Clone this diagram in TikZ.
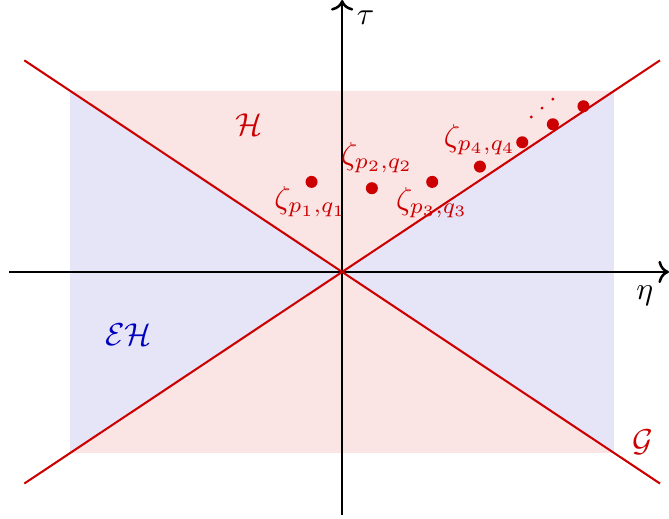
\documentclass[tikz,border=0pt]{standalone}
\usepackage{amsmath}
\usepackage{xcolor}
\usepackage{amssymb}
\usetikzlibrary{arrows.meta}
\colorlet{hred}{red!80!black}
\colorlet{ehblue}{blue!75!black}
\definecolor{hpink}{RGB}{250,228,228}
\definecolor{ehlav}{RGB}{230,228,247}

\begin{document}
\begin{tikzpicture}[line width=0.65pt]
			\useasboundingbox (-3.80,-2.74) rectangle (3.63,3.02);
			
			\fill[ehlav] (-3.02,-2.01) rectangle (3.02,2.01);
			\fill[hpink] (-3.02,2.01) -- (3.02,2.01) -- (0,0) -- cycle;
			\fill[hpink] (-3.02,-2.01) -- (3.02,-2.01) -- (0,0) -- cycle;
			
			\draw[->, line width=0.8pt] (-3.7,0) -- (3.63,0);
			\draw[->, line width=0.8pt] (0,-2.7) -- (0,3.02);
			\node (tau) at (0.26,2.82) {$\tau$};
			\node (eta) at (3.36,-0.27) {$\eta$};
			
			\draw[hred] (-3.53,2.35) -- (3.53,-2.35);
			\draw[hred] (-3.53,-2.35) -- (3.53,2.35);
			
			\node[hred] (H) at (-1.03,1.64) {$\mathcal{H}$};
			\node[ehblue] (EH) at (-2.37,-0.7) {$\mathcal{E}\mathcal{H}$};
			\node[hred] (G) at (3.34,-1.89) {$\mathcal{G}$};
			
			\foreach \p in {(-0.34,1.0),(0.33,0.93),(1.0,1.0),(1.53,1.17),(2.0,1.44),(2.34,1.64),(2.68,1.84)}{
				\fill[hred] \p circle (1.9pt);
			}
			\foreach \p in {(2.1,1.72),(2.22,1.82),(2.34,1.92)}{
				\fill[hred] \p circle (0.5pt);
			}
			
			\node[hred] (z1) at (-0.35,0.78) {$\zeta_{p_1,q_1}$};
			\node[hred] (z2) at (0.39,1.27) {$\zeta_{p_2,q_2}$};
			\node[hred] (z3) at (1.0,0.77) {$\zeta_{p_3,q_3}$};
			\node[hred] (z4) at (1.53,1.47) {$\zeta_{p_4,q_4}$};
			
		\end{tikzpicture}
\end{document}
